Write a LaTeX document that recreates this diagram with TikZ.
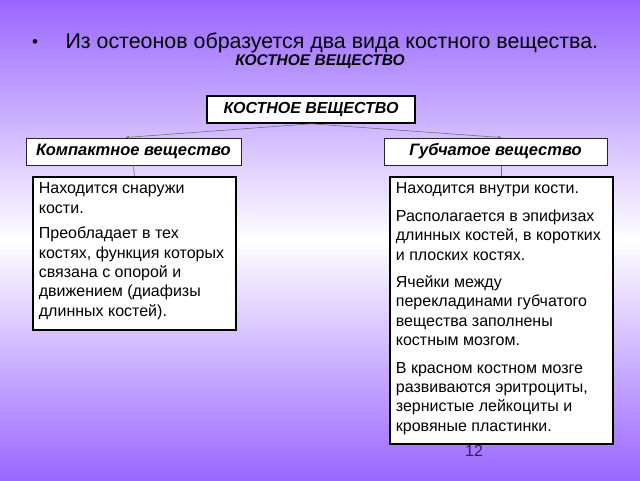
\documentclass[tikz,border=0pt]{standalone}
\usepackage{fontspec}
\setmainfont{Liberation Sans}
\usetikzlibrary{positioning,arrows.meta}
\definecolor{slidepurple}{RGB}{153,102,255}
\definecolor{pagenum}{RGB}{55,25,95}
\tikzset{
  headbox/.style={draw=black, line width=1.6pt, fill=white, inner sep=0pt,
    minimum width=208pt, minimum height=27pt,
    font=\fontsize{16}{18}\selectfont\bfseries\itshape},
  kindbox/.style={draw=black!85, line width=1pt, fill=white, inner sep=0pt,
    minimum height=27pt, font=\fontsize{16.5}{18}\selectfont\bfseries\itshape},
  notebox/.style={draw=black, line width=1.8pt, fill=white, inner sep=6pt,
    anchor=north west, font=\fontsize{16}{19.4}\selectfont},
  link/.style={draw=black!55, line width=0.6pt},
  linkarrow/.style={link, -{Stealth[length=4pt,width=3pt]}},
}
\begin{document}
\begin{tikzpicture}[x=1pt,y=-1pt]
\useasboundingbox (0,0) rectangle (640,480);
\shade[top color=slidepurple, bottom color=slidepurple, middle color=white]
  (0,0) rectangle (640,480);

% heading
\node[anchor=base, font=\fontsize{17}{20}\selectfont] (bullet) at (35,47) {•};
\node[anchor=base west, font=\fontsize{21.4}{24}\selectfont] (title) at (62,48)
  {Из остеонов образуется два вида костного вещества.};
\node[anchor=base, font=\fontsize{15.5}{18}\selectfont\bfseries\itshape] (subtitle)
  at (320,65) {КОСТНОЕ ВЕЩЕСТВО};

\node[text=pagenum, font=\fontsize{16}{18}\selectfont] (pageno) at (474,451) {12};

% tree
\node[headbox] (bone) at (311,109.5) {КОСТНОЕ ВЕЩЕСТВО};
\node[kindbox, minimum width=215pt] (compactkind) at (133.5,151.5) {Компактное вещество};
\node[kindbox, minimum width=223pt] (spongykind) at (495.5,151.5) {Губчатое вещество};

\node[notebox] (compactnote) at (32,176) {\parbox[c][141pt][t]{191pt}{\raggedright\setlength{\parskip}{6pt}%
Находится снаружи\\ кости.\par
Преобладает в тех\\ костях, функция которых\\ связана с опорой и\\ движением (диафизы\\ длинных костей).}};
\node[notebox] (spongynote) at (389,176) {\parbox[c][255pt][t]{211pt}{\raggedright\setlength{\parskip}{8pt}%
Находится внутри кости.\par
Располагается в эпифизах\\ длинных костей, в коротких\\ и плоских костях.\par
Ячейки между\\ перекладинами губчатого\\ вещества заполнены\\ костным мозгом.\par
В красном костном мозге\\ развиваются эритроциты,\\ зернистые лейкоциты и\\ кровяные пластинки.}};

\draw[linkarrow] (bone.south) -- ([xshift=-8pt]compactkind.north);
\draw[linkarrow] (bone.south) -- ([xshift=6pt]spongykind.north);
\draw[link] (compactkind.south) -- (compactnote.north);
\draw[link] (spongynote.north |- spongykind.south) -- (spongynote.north);
\end{tikzpicture}
\end{document}
